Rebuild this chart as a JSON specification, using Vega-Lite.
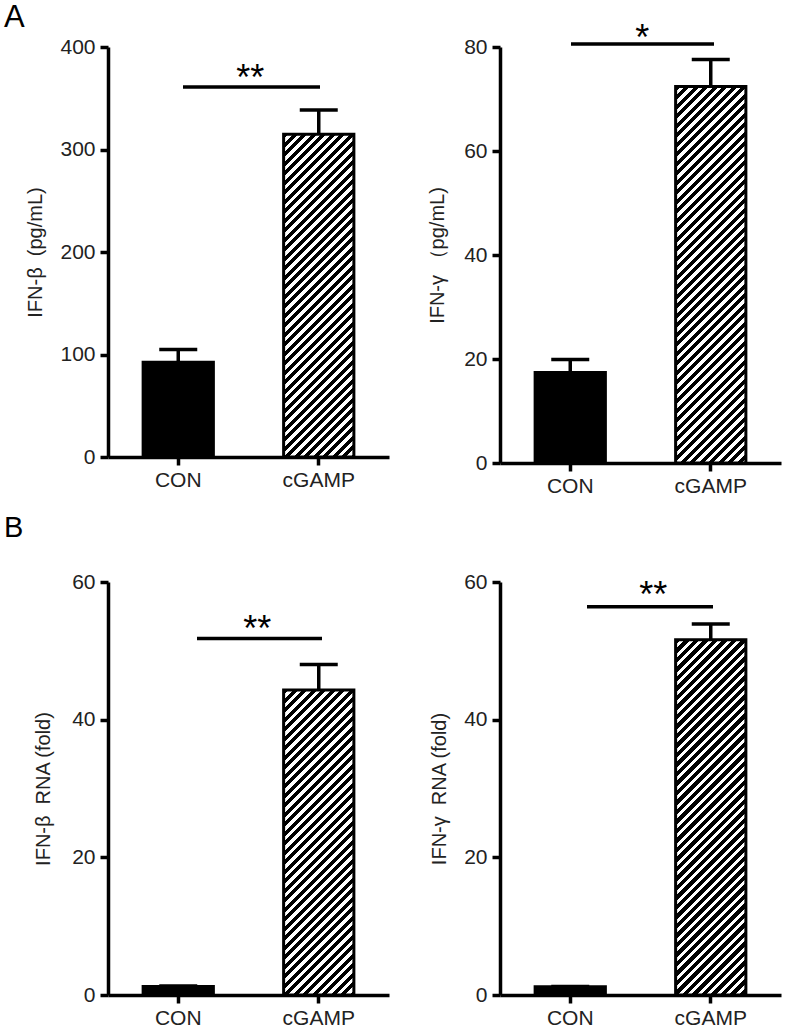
{
"$schema": "https://vega.github.io/schema/vega-lite/v6.json",
"autosize": "none",
"padding": {"left": 108, "top": 47, "right": 679, "bottom": 982},
"background": "white",
"datasets": {
"a1": [{"group":"CON","mean":92.5,"upper":105},{"group":"cGAMP","mean":315,"upper":338.5}],
"a1s": [{"from":"CON","to":"cGAMP","y":361,"label":"**"}],
"a2": [{"group":"CON","mean":17.4,"upper":19.9},{"group":"cGAMP","mean":72.4,"upper":77.6}],
"a2s": [{"from":"CON","to":"cGAMP","y":80.6,"label":"*"}],
"b1": [{"group":"CON","mean":1.25,"upper":1.3},{"group":"cGAMP","mean":44.3,"upper":48.0}],
"b1s": [{"from":"CON","to":"cGAMP","y":51.8,"label":"**"}],
"b2": [{"group":"CON","mean":1.2,"upper":1.25},{"group":"cGAMP","mean":51.6,"upper":53.9}],
"b2s": [{"from":"CON","to":"cGAMP","y":56.4,"label":"**"}]
},
"columns": 2,
"spacing": {"row": 119, "column": 111},
"bounds": "flush",
"concat": [
{
"width": 281, "height": 410,
"title": {"text":"A","anchor":"start","frame":"group","dx":-104,"offset":2,"fontSize":31,"fontWeight":"normal","font":"Liberation Sans","color":"#000"},
"layer": [
{"data":{"name":"a1"},"transform":[{"filter":"datum.group === 'CON'"}],
"mark":{"type":"bar","fill":"#000","stroke":"#000","strokeWidth":3},
"encoding":{
"x":{"field":"group","type":"nominal","title":null,"scale":{"domain":["CON","cGAMP"],"paddingInner":0.5,"paddingOuter":0.25},"axis":{"labelAngle":0}},
"y":{"field":"mean","type":"quantitative","title":"IFN-β\u00a0 (pg/mL)","scale":{"domain":[0,400],"nice":false},"axis":{"values":[0,100,200,300,400],"titlePadding":14}}}},
{"data":{"name":"a1"},"transform":[{"filter":"datum.group === 'cGAMP'"}],
"mark":{"type":"bar","stroke":"#000","strokeWidth":3,"fill":{"gradient":"linear","x1":0,"y1":0,"x2":0.30562,"y2":1.40466,"stops":[
{"offset":0,"color":"#000"},{"offset":0.011,"color":"#000"},{"offset":0.011,"color":"#fff"},{"offset":0.02,"color":"#fff"},
{"offset":0.02,"color":"#000"},{"offset":0.031,"color":"#000"},{"offset":0.031,"color":"#fff"},{"offset":0.04,"color":"#fff"},
{"offset":0.04,"color":"#000"},{"offset":0.051,"color":"#000"},{"offset":0.051,"color":"#fff"},{"offset":0.06,"color":"#fff"},
{"offset":0.06,"color":"#000"},{"offset":0.071,"color":"#000"},{"offset":0.071,"color":"#fff"},{"offset":0.08,"color":"#fff"},
{"offset":0.08,"color":"#000"},{"offset":0.091,"color":"#000"},{"offset":0.091,"color":"#fff"},{"offset":0.1,"color":"#fff"},
{"offset":0.1,"color":"#000"},{"offset":0.111,"color":"#000"},{"offset":0.111,"color":"#fff"},{"offset":0.12,"color":"#fff"},
{"offset":0.12,"color":"#000"},{"offset":0.131,"color":"#000"},{"offset":0.131,"color":"#fff"},{"offset":0.14,"color":"#fff"},
{"offset":0.14,"color":"#000"},{"offset":0.151,"color":"#000"},{"offset":0.151,"color":"#fff"},{"offset":0.16,"color":"#fff"},
{"offset":0.16,"color":"#000"},{"offset":0.171,"color":"#000"},{"offset":0.171,"color":"#fff"},{"offset":0.18,"color":"#fff"},
{"offset":0.18,"color":"#000"},{"offset":0.191,"color":"#000"},{"offset":0.191,"color":"#fff"},{"offset":0.2,"color":"#fff"},
{"offset":0.2,"color":"#000"},{"offset":0.211,"color":"#000"},{"offset":0.211,"color":"#fff"},{"offset":0.22,"color":"#fff"},
{"offset":0.22,"color":"#000"},{"offset":0.231,"color":"#000"},{"offset":0.231,"color":"#fff"},{"offset":0.24,"color":"#fff"},
{"offset":0.24,"color":"#000"},{"offset":0.251,"color":"#000"},{"offset":0.251,"color":"#fff"},{"offset":0.26,"color":"#fff"},
{"offset":0.26,"color":"#000"},{"offset":0.271,"color":"#000"},{"offset":0.271,"color":"#fff"},{"offset":0.28,"color":"#fff"},
{"offset":0.28,"color":"#000"},{"offset":0.291,"color":"#000"},{"offset":0.291,"color":"#fff"},{"offset":0.3,"color":"#fff"},
{"offset":0.3,"color":"#000"},{"offset":0.311,"color":"#000"},{"offset":0.311,"color":"#fff"},{"offset":0.32,"color":"#fff"},
{"offset":0.32,"color":"#000"},{"offset":0.331,"color":"#000"},{"offset":0.331,"color":"#fff"},{"offset":0.34,"color":"#fff"},
{"offset":0.34,"color":"#000"},{"offset":0.351,"color":"#000"},{"offset":0.351,"color":"#fff"},{"offset":0.36,"color":"#fff"},
{"offset":0.36,"color":"#000"},{"offset":0.371,"color":"#000"},{"offset":0.371,"color":"#fff"},{"offset":0.38,"color":"#fff"},
{"offset":0.38,"color":"#000"},{"offset":0.391,"color":"#000"},{"offset":0.391,"color":"#fff"},{"offset":0.4,"color":"#fff"},
{"offset":0.4,"color":"#000"},{"offset":0.411,"color":"#000"},{"offset":0.411,"color":"#fff"},{"offset":0.42,"color":"#fff"},
{"offset":0.42,"color":"#000"},{"offset":0.431,"color":"#000"},{"offset":0.431,"color":"#fff"},{"offset":0.44,"color":"#fff"},
{"offset":0.44,"color":"#000"},{"offset":0.451,"color":"#000"},{"offset":0.451,"color":"#fff"},{"offset":0.46,"color":"#fff"},
{"offset":0.46,"color":"#000"},{"offset":0.471,"color":"#000"},{"offset":0.471,"color":"#fff"},{"offset":0.48,"color":"#fff"},
{"offset":0.48,"color":"#000"},{"offset":0.491,"color":"#000"},{"offset":0.491,"color":"#fff"},{"offset":0.5,"color":"#fff"},
{"offset":0.5,"color":"#000"},{"offset":0.511,"color":"#000"},{"offset":0.511,"color":"#fff"},{"offset":0.52,"color":"#fff"},
{"offset":0.52,"color":"#000"},{"offset":0.531,"color":"#000"},{"offset":0.531,"color":"#fff"},{"offset":0.54,"color":"#fff"},
{"offset":0.54,"color":"#000"},{"offset":0.551,"color":"#000"},{"offset":0.551,"color":"#fff"},{"offset":0.56,"color":"#fff"},
{"offset":0.56,"color":"#000"},{"offset":0.571,"color":"#000"},{"offset":0.571,"color":"#fff"},{"offset":0.58,"color":"#fff"},
{"offset":0.58,"color":"#000"},{"offset":0.591,"color":"#000"},{"offset":0.591,"color":"#fff"},{"offset":0.6,"color":"#fff"},
{"offset":0.6,"color":"#000"},{"offset":0.611,"color":"#000"},{"offset":0.611,"color":"#fff"},{"offset":0.62,"color":"#fff"},
{"offset":0.62,"color":"#000"},{"offset":0.631,"color":"#000"},{"offset":0.631,"color":"#fff"},{"offset":0.64,"color":"#fff"},
{"offset":0.64,"color":"#000"},{"offset":0.651,"color":"#000"},{"offset":0.651,"color":"#fff"},{"offset":0.66,"color":"#fff"},
{"offset":0.66,"color":"#000"},{"offset":0.671,"color":"#000"},{"offset":0.671,"color":"#fff"},{"offset":0.68,"color":"#fff"},
{"offset":0.68,"color":"#000"},{"offset":0.691,"color":"#000"},{"offset":0.691,"color":"#fff"},{"offset":0.7,"color":"#fff"},
{"offset":0.7,"color":"#000"},{"offset":0.711,"color":"#000"},{"offset":0.711,"color":"#fff"},{"offset":0.72,"color":"#fff"},
{"offset":0.72,"color":"#000"},{"offset":0.731,"color":"#000"},{"offset":0.731,"color":"#fff"},{"offset":0.74,"color":"#fff"},
{"offset":0.74,"color":"#000"},{"offset":0.751,"color":"#000"},{"offset":0.751,"color":"#fff"},{"offset":0.76,"color":"#fff"},
{"offset":0.76,"color":"#000"},{"offset":0.771,"color":"#000"},{"offset":0.771,"color":"#fff"},{"offset":0.78,"color":"#fff"},
{"offset":0.78,"color":"#000"},{"offset":0.791,"color":"#000"},{"offset":0.791,"color":"#fff"},{"offset":0.8,"color":"#fff"},
{"offset":0.8,"color":"#000"},{"offset":0.811,"color":"#000"},{"offset":0.811,"color":"#fff"},{"offset":0.82,"color":"#fff"},
{"offset":0.82,"color":"#000"},{"offset":0.831,"color":"#000"},{"offset":0.831,"color":"#fff"},{"offset":0.84,"color":"#fff"},
{"offset":0.84,"color":"#000"},{"offset":0.851,"color":"#000"},{"offset":0.851,"color":"#fff"},{"offset":0.86,"color":"#fff"}
]}},
"encoding":{"x":{"field":"group","type":"nominal","title":null},"y":{"field":"mean","type":"quantitative","title":"IFN-β\u00a0 (pg/mL)"}}},
{"data":{"name":"a1"},"mark":{"type":"rule","color":"#000","strokeWidth":3.5},
"encoding":{"x":{"field":"group","type":"nominal","title":null},"y":{"field":"mean","type":"quantitative","title":"IFN-β\u00a0 (pg/mL)"},"y2":{"field":"upper"}}},
{"data":{"name":"a1"},"mark":{"type":"tick","color":"#000","thickness":3.5,"size":38,"opacity":1},
"encoding":{"x":{"field":"group","type":"nominal","title":null},"y":{"field":"upper","type":"quantitative","title":"IFN-β\u00a0 (pg/mL)"}}},
{"data":{"name":"a1s"},"mark":{"type":"rule","color":"#000","strokeWidth":3.5,"xOffset":4.75,"x2Offset":1.25},
"encoding":{"x":{"field":"from","type":"nominal","title":null},"x2":{"field":"to"},"y":{"field":"y","type":"quantitative","title":"IFN-β\u00a0 (pg/mL)"}}},
{"data":{"name":"a1s"},"mark":{"type":"text","font":"Liberation Sans","fontSize":36,"baseline":"alphabetic","xOffset":72,"dy":3,"color":"#000"},
"encoding":{"x":{"field":"from","type":"nominal","title":null},"y":{"field":"y","type":"quantitative","title":"IFN-β\u00a0 (pg/mL)"},"text":{"field":"label"}}}
]
},
{
"width": 281, "height": 416,
"layer": [
{"data":{"name":"a2"},"transform":[{"filter":"datum.group === 'CON'"}],
"mark":{"type":"bar","fill":"#000","stroke":"#000","strokeWidth":3},
"encoding":{
"x":{"field":"group","type":"nominal","title":null,"scale":{"domain":["CON","cGAMP"],"paddingInner":0.5,"paddingOuter":0.25},"axis":{"labelAngle":0}},
"y":{"field":"mean","type":"quantitative","title":"IFN-γ （pg/mL)","scale":{"domain":[0,80],"nice":false},"axis":{"values":[0,20,40,60,80],"titlePadding":16}}}},
{"data":{"name":"a2"},"transform":[{"filter":"datum.group === 'cGAMP'"}],
"mark":{"type":"bar","stroke":"#000","strokeWidth":3,"fill":{"gradient":"linear","x1":0,"y1":0,"x2":0.2275,"y2":1.21924,"stops":[
{"offset":0,"color":"#000"},{"offset":0.011,"color":"#000"},{"offset":0.011,"color":"#fff"},{"offset":0.02,"color":"#fff"},
{"offset":0.02,"color":"#000"},{"offset":0.031,"color":"#000"},{"offset":0.031,"color":"#fff"},{"offset":0.04,"color":"#fff"},
{"offset":0.04,"color":"#000"},{"offset":0.051,"color":"#000"},{"offset":0.051,"color":"#fff"},{"offset":0.06,"color":"#fff"},
{"offset":0.06,"color":"#000"},{"offset":0.071,"color":"#000"},{"offset":0.071,"color":"#fff"},{"offset":0.08,"color":"#fff"},
{"offset":0.08,"color":"#000"},{"offset":0.091,"color":"#000"},{"offset":0.091,"color":"#fff"},{"offset":0.1,"color":"#fff"},
{"offset":0.1,"color":"#000"},{"offset":0.111,"color":"#000"},{"offset":0.111,"color":"#fff"},{"offset":0.12,"color":"#fff"},
{"offset":0.12,"color":"#000"},{"offset":0.131,"color":"#000"},{"offset":0.131,"color":"#fff"},{"offset":0.14,"color":"#fff"},
{"offset":0.14,"color":"#000"},{"offset":0.151,"color":"#000"},{"offset":0.151,"color":"#fff"},{"offset":0.16,"color":"#fff"},
{"offset":0.16,"color":"#000"},{"offset":0.171,"color":"#000"},{"offset":0.171,"color":"#fff"},{"offset":0.18,"color":"#fff"},
{"offset":0.18,"color":"#000"},{"offset":0.191,"color":"#000"},{"offset":0.191,"color":"#fff"},{"offset":0.2,"color":"#fff"},
{"offset":0.2,"color":"#000"},{"offset":0.211,"color":"#000"},{"offset":0.211,"color":"#fff"},{"offset":0.22,"color":"#fff"},
{"offset":0.22,"color":"#000"},{"offset":0.231,"color":"#000"},{"offset":0.231,"color":"#fff"},{"offset":0.24,"color":"#fff"},
{"offset":0.24,"color":"#000"},{"offset":0.251,"color":"#000"},{"offset":0.251,"color":"#fff"},{"offset":0.26,"color":"#fff"},
{"offset":0.26,"color":"#000"},{"offset":0.271,"color":"#000"},{"offset":0.271,"color":"#fff"},{"offset":0.28,"color":"#fff"},
{"offset":0.28,"color":"#000"},{"offset":0.291,"color":"#000"},{"offset":0.291,"color":"#fff"},{"offset":0.3,"color":"#fff"},
{"offset":0.3,"color":"#000"},{"offset":0.311,"color":"#000"},{"offset":0.311,"color":"#fff"},{"offset":0.32,"color":"#fff"},
{"offset":0.32,"color":"#000"},{"offset":0.331,"color":"#000"},{"offset":0.331,"color":"#fff"},{"offset":0.34,"color":"#fff"},
{"offset":0.34,"color":"#000"},{"offset":0.351,"color":"#000"},{"offset":0.351,"color":"#fff"},{"offset":0.36,"color":"#fff"},
{"offset":0.36,"color":"#000"},{"offset":0.371,"color":"#000"},{"offset":0.371,"color":"#fff"},{"offset":0.38,"color":"#fff"},
{"offset":0.38,"color":"#000"},{"offset":0.391,"color":"#000"},{"offset":0.391,"color":"#fff"},{"offset":0.4,"color":"#fff"},
{"offset":0.4,"color":"#000"},{"offset":0.411,"color":"#000"},{"offset":0.411,"color":"#fff"},{"offset":0.42,"color":"#fff"},
{"offset":0.42,"color":"#000"},{"offset":0.431,"color":"#000"},{"offset":0.431,"color":"#fff"},{"offset":0.44,"color":"#fff"},
{"offset":0.44,"color":"#000"},{"offset":0.451,"color":"#000"},{"offset":0.451,"color":"#fff"},{"offset":0.46,"color":"#fff"},
{"offset":0.46,"color":"#000"},{"offset":0.471,"color":"#000"},{"offset":0.471,"color":"#fff"},{"offset":0.48,"color":"#fff"},
{"offset":0.48,"color":"#000"},{"offset":0.491,"color":"#000"},{"offset":0.491,"color":"#fff"},{"offset":0.5,"color":"#fff"},
{"offset":0.5,"color":"#000"},{"offset":0.511,"color":"#000"},{"offset":0.511,"color":"#fff"},{"offset":0.52,"color":"#fff"},
{"offset":0.52,"color":"#000"},{"offset":0.531,"color":"#000"},{"offset":0.531,"color":"#fff"},{"offset":0.54,"color":"#fff"},
{"offset":0.54,"color":"#000"},{"offset":0.551,"color":"#000"},{"offset":0.551,"color":"#fff"},{"offset":0.56,"color":"#fff"},
{"offset":0.56,"color":"#000"},{"offset":0.571,"color":"#000"},{"offset":0.571,"color":"#fff"},{"offset":0.58,"color":"#fff"},
{"offset":0.58,"color":"#000"},{"offset":0.591,"color":"#000"},{"offset":0.591,"color":"#fff"},{"offset":0.6,"color":"#fff"},
{"offset":0.6,"color":"#000"},{"offset":0.611,"color":"#000"},{"offset":0.611,"color":"#fff"},{"offset":0.62,"color":"#fff"},
{"offset":0.62,"color":"#000"},{"offset":0.631,"color":"#000"},{"offset":0.631,"color":"#fff"},{"offset":0.64,"color":"#fff"},
{"offset":0.64,"color":"#000"},{"offset":0.651,"color":"#000"},{"offset":0.651,"color":"#fff"},{"offset":0.66,"color":"#fff"},
{"offset":0.66,"color":"#000"},{"offset":0.671,"color":"#000"},{"offset":0.671,"color":"#fff"},{"offset":0.68,"color":"#fff"},
{"offset":0.68,"color":"#000"},{"offset":0.691,"color":"#000"},{"offset":0.691,"color":"#fff"},{"offset":0.7,"color":"#fff"},
{"offset":0.7,"color":"#000"},{"offset":0.711,"color":"#000"},{"offset":0.711,"color":"#fff"},{"offset":0.72,"color":"#fff"},
{"offset":0.72,"color":"#000"},{"offset":0.731,"color":"#000"},{"offset":0.731,"color":"#fff"},{"offset":0.74,"color":"#fff"},
{"offset":0.74,"color":"#000"},{"offset":0.751,"color":"#000"},{"offset":0.751,"color":"#fff"},{"offset":0.76,"color":"#fff"},
{"offset":0.76,"color":"#000"},{"offset":0.771,"color":"#000"},{"offset":0.771,"color":"#fff"},{"offset":0.78,"color":"#fff"},
{"offset":0.78,"color":"#000"},{"offset":0.791,"color":"#000"},{"offset":0.791,"color":"#fff"},{"offset":0.8,"color":"#fff"},
{"offset":0.8,"color":"#000"},{"offset":0.811,"color":"#000"},{"offset":0.811,"color":"#fff"},{"offset":0.82,"color":"#fff"},
{"offset":0.82,"color":"#000"},{"offset":0.831,"color":"#000"},{"offset":0.831,"color":"#fff"},{"offset":0.84,"color":"#fff"},
{"offset":0.84,"color":"#000"},{"offset":0.851,"color":"#000"},{"offset":0.851,"color":"#fff"},{"offset":0.86,"color":"#fff"},
{"offset":0.86,"color":"#000"},{"offset":0.871,"color":"#000"},{"offset":0.871,"color":"#fff"},{"offset":0.88,"color":"#fff"},
{"offset":0.88,"color":"#000"},{"offset":0.891,"color":"#000"},{"offset":0.891,"color":"#fff"},{"offset":0.9,"color":"#fff"},
{"offset":0.9,"color":"#000"},{"offset":0.911,"color":"#000"},{"offset":0.911,"color":"#fff"},{"offset":0.92,"color":"#fff"},
{"offset":0.92,"color":"#000"},{"offset":0.931,"color":"#000"},{"offset":0.931,"color":"#fff"},{"offset":0.94,"color":"#fff"},
{"offset":0.94,"color":"#000"},{"offset":0.951,"color":"#000"},{"offset":0.951,"color":"#fff"},{"offset":0.96,"color":"#fff"},
{"offset":0.96,"color":"#000"},{"offset":0.971,"color":"#000"},{"offset":0.971,"color":"#fff"},{"offset":0.98,"color":"#fff"}
]}},
"encoding":{"x":{"field":"group","type":"nominal","title":null},"y":{"field":"mean","type":"quantitative","title":"IFN-γ （pg/mL)"}}},
{"data":{"name":"a2"},"mark":{"type":"rule","color":"#000","strokeWidth":3.5},
"encoding":{"x":{"field":"group","type":"nominal","title":null},"y":{"field":"mean","type":"quantitative","title":"IFN-γ （pg/mL)"},"y2":{"field":"upper"}}},
{"data":{"name":"a2"},"mark":{"type":"tick","color":"#000","thickness":3.5,"size":38,"opacity":1},
"encoding":{"x":{"field":"group","type":"nominal","title":null},"y":{"field":"upper","type":"quantitative","title":"IFN-γ （pg/mL)"}}},
{"data":{"name":"a2s"},"mark":{"type":"rule","color":"#000","strokeWidth":3.5,"xOffset":0.75,"x2Offset":3.25},
"encoding":{"x":{"field":"from","type":"nominal","title":null},"x2":{"field":"to"},"y":{"field":"y","type":"quantitative","title":"IFN-γ （pg/mL)"}}},
{"data":{"name":"a2s"},"mark":{"type":"text","font":"Liberation Sans","fontSize":36,"baseline":"alphabetic","xOffset":72,"dy":6,"color":"#000"},
"encoding":{"x":{"field":"from","type":"nominal","title":null},"y":{"field":"y","type":"quantitative","title":"IFN-γ （pg/mL)"},"text":{"field":"label"}}}
]
},
{
"width": 281, "height": 413,
"title": {"text":"B","anchor":"start","frame":"group","dx":-104,"offset":28,"fontSize":29,"fontWeight":"normal","font":"Liberation Sans","color":"#000"},
"layer": [
{"data":{"name":"b1"},"transform":[{"filter":"datum.group === 'CON'"}],
"mark":{"type":"bar","fill":"#000","stroke":"#000","strokeWidth":3},
"encoding":{
"x":{"field":"group","type":"nominal","title":null,"scale":{"domain":["CON","cGAMP"],"paddingInner":0.5,"paddingOuter":0.25},"axis":{"labelAngle":0}},
"y":{"field":"mean","type":"quantitative","title":"IFN-β\u00a0 RNA (fold)","scale":{"domain":[0,60],"nice":false},"axis":{"values":[0,20,40,60],"titlePadding":18}}}},
{"data":{"name":"b1"},"transform":[{"filter":"datum.group === 'cGAMP'"}],
"mark":{"type":"bar","stroke":"#000","strokeWidth":3,"fill":{"gradient":"linear","x1":0,"y1":0,"x2":0.34078,"y2":1.47922,"stops":[
{"offset":0,"color":"#000"},{"offset":0.011,"color":"#000"},{"offset":0.011,"color":"#fff"},{"offset":0.02,"color":"#fff"},
{"offset":0.02,"color":"#000"},{"offset":0.031,"color":"#000"},{"offset":0.031,"color":"#fff"},{"offset":0.04,"color":"#fff"},
{"offset":0.04,"color":"#000"},{"offset":0.051,"color":"#000"},{"offset":0.051,"color":"#fff"},{"offset":0.06,"color":"#fff"},
{"offset":0.06,"color":"#000"},{"offset":0.071,"color":"#000"},{"offset":0.071,"color":"#fff"},{"offset":0.08,"color":"#fff"},
{"offset":0.08,"color":"#000"},{"offset":0.091,"color":"#000"},{"offset":0.091,"color":"#fff"},{"offset":0.1,"color":"#fff"},
{"offset":0.1,"color":"#000"},{"offset":0.111,"color":"#000"},{"offset":0.111,"color":"#fff"},{"offset":0.12,"color":"#fff"},
{"offset":0.12,"color":"#000"},{"offset":0.131,"color":"#000"},{"offset":0.131,"color":"#fff"},{"offset":0.14,"color":"#fff"},
{"offset":0.14,"color":"#000"},{"offset":0.151,"color":"#000"},{"offset":0.151,"color":"#fff"},{"offset":0.16,"color":"#fff"},
{"offset":0.16,"color":"#000"},{"offset":0.171,"color":"#000"},{"offset":0.171,"color":"#fff"},{"offset":0.18,"color":"#fff"},
{"offset":0.18,"color":"#000"},{"offset":0.191,"color":"#000"},{"offset":0.191,"color":"#fff"},{"offset":0.2,"color":"#fff"},
{"offset":0.2,"color":"#000"},{"offset":0.211,"color":"#000"},{"offset":0.211,"color":"#fff"},{"offset":0.22,"color":"#fff"},
{"offset":0.22,"color":"#000"},{"offset":0.231,"color":"#000"},{"offset":0.231,"color":"#fff"},{"offset":0.24,"color":"#fff"},
{"offset":0.24,"color":"#000"},{"offset":0.251,"color":"#000"},{"offset":0.251,"color":"#fff"},{"offset":0.26,"color":"#fff"},
{"offset":0.26,"color":"#000"},{"offset":0.271,"color":"#000"},{"offset":0.271,"color":"#fff"},{"offset":0.28,"color":"#fff"},
{"offset":0.28,"color":"#000"},{"offset":0.291,"color":"#000"},{"offset":0.291,"color":"#fff"},{"offset":0.3,"color":"#fff"},
{"offset":0.3,"color":"#000"},{"offset":0.311,"color":"#000"},{"offset":0.311,"color":"#fff"},{"offset":0.32,"color":"#fff"},
{"offset":0.32,"color":"#000"},{"offset":0.331,"color":"#000"},{"offset":0.331,"color":"#fff"},{"offset":0.34,"color":"#fff"},
{"offset":0.34,"color":"#000"},{"offset":0.351,"color":"#000"},{"offset":0.351,"color":"#fff"},{"offset":0.36,"color":"#fff"},
{"offset":0.36,"color":"#000"},{"offset":0.371,"color":"#000"},{"offset":0.371,"color":"#fff"},{"offset":0.38,"color":"#fff"},
{"offset":0.38,"color":"#000"},{"offset":0.391,"color":"#000"},{"offset":0.391,"color":"#fff"},{"offset":0.4,"color":"#fff"},
{"offset":0.4,"color":"#000"},{"offset":0.411,"color":"#000"},{"offset":0.411,"color":"#fff"},{"offset":0.42,"color":"#fff"},
{"offset":0.42,"color":"#000"},{"offset":0.431,"color":"#000"},{"offset":0.431,"color":"#fff"},{"offset":0.44,"color":"#fff"},
{"offset":0.44,"color":"#000"},{"offset":0.451,"color":"#000"},{"offset":0.451,"color":"#fff"},{"offset":0.46,"color":"#fff"},
{"offset":0.46,"color":"#000"},{"offset":0.471,"color":"#000"},{"offset":0.471,"color":"#fff"},{"offset":0.48,"color":"#fff"},
{"offset":0.48,"color":"#000"},{"offset":0.491,"color":"#000"},{"offset":0.491,"color":"#fff"},{"offset":0.5,"color":"#fff"},
{"offset":0.5,"color":"#000"},{"offset":0.511,"color":"#000"},{"offset":0.511,"color":"#fff"},{"offset":0.52,"color":"#fff"},
{"offset":0.52,"color":"#000"},{"offset":0.531,"color":"#000"},{"offset":0.531,"color":"#fff"},{"offset":0.54,"color":"#fff"},
{"offset":0.54,"color":"#000"},{"offset":0.551,"color":"#000"},{"offset":0.551,"color":"#fff"},{"offset":0.56,"color":"#fff"},
{"offset":0.56,"color":"#000"},{"offset":0.571,"color":"#000"},{"offset":0.571,"color":"#fff"},{"offset":0.58,"color":"#fff"},
{"offset":0.58,"color":"#000"},{"offset":0.591,"color":"#000"},{"offset":0.591,"color":"#fff"},{"offset":0.6,"color":"#fff"},
{"offset":0.6,"color":"#000"},{"offset":0.611,"color":"#000"},{"offset":0.611,"color":"#fff"},{"offset":0.62,"color":"#fff"},
{"offset":0.62,"color":"#000"},{"offset":0.631,"color":"#000"},{"offset":0.631,"color":"#fff"},{"offset":0.64,"color":"#fff"},
{"offset":0.64,"color":"#000"},{"offset":0.651,"color":"#000"},{"offset":0.651,"color":"#fff"},{"offset":0.66,"color":"#fff"},
{"offset":0.66,"color":"#000"},{"offset":0.671,"color":"#000"},{"offset":0.671,"color":"#fff"},{"offset":0.68,"color":"#fff"},
{"offset":0.68,"color":"#000"},{"offset":0.691,"color":"#000"},{"offset":0.691,"color":"#fff"},{"offset":0.7,"color":"#fff"},
{"offset":0.7,"color":"#000"},{"offset":0.711,"color":"#000"},{"offset":0.711,"color":"#fff"},{"offset":0.72,"color":"#fff"},
{"offset":0.72,"color":"#000"},{"offset":0.731,"color":"#000"},{"offset":0.731,"color":"#fff"},{"offset":0.74,"color":"#fff"},
{"offset":0.74,"color":"#000"},{"offset":0.751,"color":"#000"},{"offset":0.751,"color":"#fff"},{"offset":0.76,"color":"#fff"},
{"offset":0.76,"color":"#000"},{"offset":0.771,"color":"#000"},{"offset":0.771,"color":"#fff"},{"offset":0.78,"color":"#fff"},
{"offset":0.78,"color":"#000"},{"offset":0.791,"color":"#000"},{"offset":0.791,"color":"#fff"},{"offset":0.8,"color":"#fff"},
{"offset":0.8,"color":"#000"},{"offset":0.811,"color":"#000"},{"offset":0.811,"color":"#fff"},{"offset":0.82,"color":"#fff"}
]}},
"encoding":{"x":{"field":"group","type":"nominal","title":null},"y":{"field":"mean","type":"quantitative","title":"IFN-β\u00a0 RNA (fold)"}}},
{"data":{"name":"b1"},"mark":{"type":"rule","color":"#000","strokeWidth":3.5},
"encoding":{"x":{"field":"group","type":"nominal","title":null},"y":{"field":"mean","type":"quantitative","title":"IFN-β\u00a0 RNA (fold)"},"y2":{"field":"upper"}}},
{"data":{"name":"b1"},"mark":{"type":"tick","color":"#000","thickness":3.5,"size":38,"opacity":1},
"encoding":{"x":{"field":"group","type":"nominal","title":null},"y":{"field":"upper","type":"quantitative","title":"IFN-β\u00a0 RNA (fold)"}}},
{"data":{"name":"b1s"},"mark":{"type":"rule","color":"#000","strokeWidth":3.5,"xOffset":18.75,"x2Offset":3.25},
"encoding":{"x":{"field":"from","type":"nominal","title":null},"x2":{"field":"to"},"y":{"field":"y","type":"quantitative","title":"IFN-β\u00a0 RNA (fold)"}}},
{"data":{"name":"b1s"},"mark":{"type":"text","font":"Liberation Sans","fontSize":36,"baseline":"alphabetic","xOffset":79,"dy":3,"color":"#000"},
"encoding":{"x":{"field":"from","type":"nominal","title":null},"y":{"field":"y","type":"quantitative","title":"IFN-β\u00a0 RNA (fold)"},"text":{"field":"label"}}}
]
},
{
"width": 281, "height": 413,
"layer": [
{"data":{"name":"b2"},"transform":[{"filter":"datum.group === 'CON'"}],
"mark":{"type":"bar","fill":"#000","stroke":"#000","strokeWidth":3},
"encoding":{
"x":{"field":"group","type":"nominal","title":null,"scale":{"domain":["CON","cGAMP"],"paddingInner":0.5,"paddingOuter":0.25},"axis":{"labelAngle":0}},
"y":{"field":"mean","type":"quantitative","title":"IFN-γ\u00a0 RNA (fold)","scale":{"domain":[0,60],"nice":false},"axis":{"values":[0,20,40,60],"titlePadding":14}}}},
{"data":{"name":"b2"},"transform":[{"filter":"datum.group === 'cGAMP'"}],
"mark":{"type":"bar","stroke":"#000","strokeWidth":3,"fill":{"gradient":"linear","x1":0,"y1":0,"x2":0.25455,"y2":1.287,"stops":[
{"offset":0,"color":"#000"},{"offset":0.011,"color":"#000"},{"offset":0.011,"color":"#fff"},{"offset":0.02,"color":"#fff"},
{"offset":0.02,"color":"#000"},{"offset":0.031,"color":"#000"},{"offset":0.031,"color":"#fff"},{"offset":0.04,"color":"#fff"},
{"offset":0.04,"color":"#000"},{"offset":0.051,"color":"#000"},{"offset":0.051,"color":"#fff"},{"offset":0.06,"color":"#fff"},
{"offset":0.06,"color":"#000"},{"offset":0.071,"color":"#000"},{"offset":0.071,"color":"#fff"},{"offset":0.08,"color":"#fff"},
{"offset":0.08,"color":"#000"},{"offset":0.091,"color":"#000"},{"offset":0.091,"color":"#fff"},{"offset":0.1,"color":"#fff"},
{"offset":0.1,"color":"#000"},{"offset":0.111,"color":"#000"},{"offset":0.111,"color":"#fff"},{"offset":0.12,"color":"#fff"},
{"offset":0.12,"color":"#000"},{"offset":0.131,"color":"#000"},{"offset":0.131,"color":"#fff"},{"offset":0.14,"color":"#fff"},
{"offset":0.14,"color":"#000"},{"offset":0.151,"color":"#000"},{"offset":0.151,"color":"#fff"},{"offset":0.16,"color":"#fff"},
{"offset":0.16,"color":"#000"},{"offset":0.171,"color":"#000"},{"offset":0.171,"color":"#fff"},{"offset":0.18,"color":"#fff"},
{"offset":0.18,"color":"#000"},{"offset":0.191,"color":"#000"},{"offset":0.191,"color":"#fff"},{"offset":0.2,"color":"#fff"},
{"offset":0.2,"color":"#000"},{"offset":0.211,"color":"#000"},{"offset":0.211,"color":"#fff"},{"offset":0.22,"color":"#fff"},
{"offset":0.22,"color":"#000"},{"offset":0.231,"color":"#000"},{"offset":0.231,"color":"#fff"},{"offset":0.24,"color":"#fff"},
{"offset":0.24,"color":"#000"},{"offset":0.251,"color":"#000"},{"offset":0.251,"color":"#fff"},{"offset":0.26,"color":"#fff"},
{"offset":0.26,"color":"#000"},{"offset":0.271,"color":"#000"},{"offset":0.271,"color":"#fff"},{"offset":0.28,"color":"#fff"},
{"offset":0.28,"color":"#000"},{"offset":0.291,"color":"#000"},{"offset":0.291,"color":"#fff"},{"offset":0.3,"color":"#fff"},
{"offset":0.3,"color":"#000"},{"offset":0.311,"color":"#000"},{"offset":0.311,"color":"#fff"},{"offset":0.32,"color":"#fff"},
{"offset":0.32,"color":"#000"},{"offset":0.331,"color":"#000"},{"offset":0.331,"color":"#fff"},{"offset":0.34,"color":"#fff"},
{"offset":0.34,"color":"#000"},{"offset":0.351,"color":"#000"},{"offset":0.351,"color":"#fff"},{"offset":0.36,"color":"#fff"},
{"offset":0.36,"color":"#000"},{"offset":0.371,"color":"#000"},{"offset":0.371,"color":"#fff"},{"offset":0.38,"color":"#fff"},
{"offset":0.38,"color":"#000"},{"offset":0.391,"color":"#000"},{"offset":0.391,"color":"#fff"},{"offset":0.4,"color":"#fff"},
{"offset":0.4,"color":"#000"},{"offset":0.411,"color":"#000"},{"offset":0.411,"color":"#fff"},{"offset":0.42,"color":"#fff"},
{"offset":0.42,"color":"#000"},{"offset":0.431,"color":"#000"},{"offset":0.431,"color":"#fff"},{"offset":0.44,"color":"#fff"},
{"offset":0.44,"color":"#000"},{"offset":0.451,"color":"#000"},{"offset":0.451,"color":"#fff"},{"offset":0.46,"color":"#fff"},
{"offset":0.46,"color":"#000"},{"offset":0.471,"color":"#000"},{"offset":0.471,"color":"#fff"},{"offset":0.48,"color":"#fff"},
{"offset":0.48,"color":"#000"},{"offset":0.491,"color":"#000"},{"offset":0.491,"color":"#fff"},{"offset":0.5,"color":"#fff"},
{"offset":0.5,"color":"#000"},{"offset":0.511,"color":"#000"},{"offset":0.511,"color":"#fff"},{"offset":0.52,"color":"#fff"},
{"offset":0.52,"color":"#000"},{"offset":0.531,"color":"#000"},{"offset":0.531,"color":"#fff"},{"offset":0.54,"color":"#fff"},
{"offset":0.54,"color":"#000"},{"offset":0.551,"color":"#000"},{"offset":0.551,"color":"#fff"},{"offset":0.56,"color":"#fff"},
{"offset":0.56,"color":"#000"},{"offset":0.571,"color":"#000"},{"offset":0.571,"color":"#fff"},{"offset":0.58,"color":"#fff"},
{"offset":0.58,"color":"#000"},{"offset":0.591,"color":"#000"},{"offset":0.591,"color":"#fff"},{"offset":0.6,"color":"#fff"},
{"offset":0.6,"color":"#000"},{"offset":0.611,"color":"#000"},{"offset":0.611,"color":"#fff"},{"offset":0.62,"color":"#fff"},
{"offset":0.62,"color":"#000"},{"offset":0.631,"color":"#000"},{"offset":0.631,"color":"#fff"},{"offset":0.64,"color":"#fff"},
{"offset":0.64,"color":"#000"},{"offset":0.651,"color":"#000"},{"offset":0.651,"color":"#fff"},{"offset":0.66,"color":"#fff"},
{"offset":0.66,"color":"#000"},{"offset":0.671,"color":"#000"},{"offset":0.671,"color":"#fff"},{"offset":0.68,"color":"#fff"},
{"offset":0.68,"color":"#000"},{"offset":0.691,"color":"#000"},{"offset":0.691,"color":"#fff"},{"offset":0.7,"color":"#fff"},
{"offset":0.7,"color":"#000"},{"offset":0.711,"color":"#000"},{"offset":0.711,"color":"#fff"},{"offset":0.72,"color":"#fff"},
{"offset":0.72,"color":"#000"},{"offset":0.731,"color":"#000"},{"offset":0.731,"color":"#fff"},{"offset":0.74,"color":"#fff"},
{"offset":0.74,"color":"#000"},{"offset":0.751,"color":"#000"},{"offset":0.751,"color":"#fff"},{"offset":0.76,"color":"#fff"},
{"offset":0.76,"color":"#000"},{"offset":0.771,"color":"#000"},{"offset":0.771,"color":"#fff"},{"offset":0.78,"color":"#fff"},
{"offset":0.78,"color":"#000"},{"offset":0.791,"color":"#000"},{"offset":0.791,"color":"#fff"},{"offset":0.8,"color":"#fff"},
{"offset":0.8,"color":"#000"},{"offset":0.811,"color":"#000"},{"offset":0.811,"color":"#fff"},{"offset":0.82,"color":"#fff"},
{"offset":0.82,"color":"#000"},{"offset":0.831,"color":"#000"},{"offset":0.831,"color":"#fff"},{"offset":0.84,"color":"#fff"},
{"offset":0.84,"color":"#000"},{"offset":0.851,"color":"#000"},{"offset":0.851,"color":"#fff"},{"offset":0.86,"color":"#fff"},
{"offset":0.86,"color":"#000"},{"offset":0.871,"color":"#000"},{"offset":0.871,"color":"#fff"},{"offset":0.88,"color":"#fff"},
{"offset":0.88,"color":"#000"},{"offset":0.891,"color":"#000"},{"offset":0.891,"color":"#fff"},{"offset":0.9,"color":"#fff"},
{"offset":0.9,"color":"#000"},{"offset":0.911,"color":"#000"},{"offset":0.911,"color":"#fff"},{"offset":0.92,"color":"#fff"}
]}},
"encoding":{"x":{"field":"group","type":"nominal","title":null},"y":{"field":"mean","type":"quantitative","title":"IFN-γ\u00a0 RNA (fold)"}}},
{"data":{"name":"b2"},"mark":{"type":"rule","color":"#000","strokeWidth":3.5},
"encoding":{"x":{"field":"group","type":"nominal","title":null},"y":{"field":"mean","type":"quantitative","title":"IFN-γ\u00a0 RNA (fold)"},"y2":{"field":"upper"}}},
{"data":{"name":"b2"},"mark":{"type":"tick","color":"#000","thickness":3.5,"size":38,"opacity":1},
"encoding":{"x":{"field":"group","type":"nominal","title":null},"y":{"field":"upper","type":"quantitative","title":"IFN-γ\u00a0 RNA (fold)"}}},
{"data":{"name":"b2s"},"mark":{"type":"rule","color":"#000","strokeWidth":3.5,"xOffset":16.75,"x2Offset":2.25},
"encoding":{"x":{"field":"from","type":"nominal","title":null},"x2":{"field":"to"},"y":{"field":"y","type":"quantitative","title":"IFN-γ\u00a0 RNA (fold)"}}},
{"data":{"name":"b2s"},"mark":{"type":"text","font":"Liberation Sans","fontSize":36,"baseline":"alphabetic","xOffset":83,"dy":0,"color":"#000"},
"encoding":{"x":{"field":"from","type":"nominal","title":null},"y":{"field":"y","type":"quantitative","title":"IFN-γ\u00a0 RNA (fold)"},"text":{"field":"label"}}}
]
}
],
"config": {
"view": {"stroke": null},
"axis": {"domainColor":"#000","domainWidth":3.5,"tickColor":"#000","tickWidth":3.5,"tickSize":8,"labelFont":"Liberation Sans","labelFontSize":21,"labelColor":"#222","titleFont":"Liberation Sans","titleFontSize":20,"titleFontWeight":"normal","titleColor":"#222","grid":false,"labelPadding":5},
"axisX": {"labelPadding":4}
}
}
